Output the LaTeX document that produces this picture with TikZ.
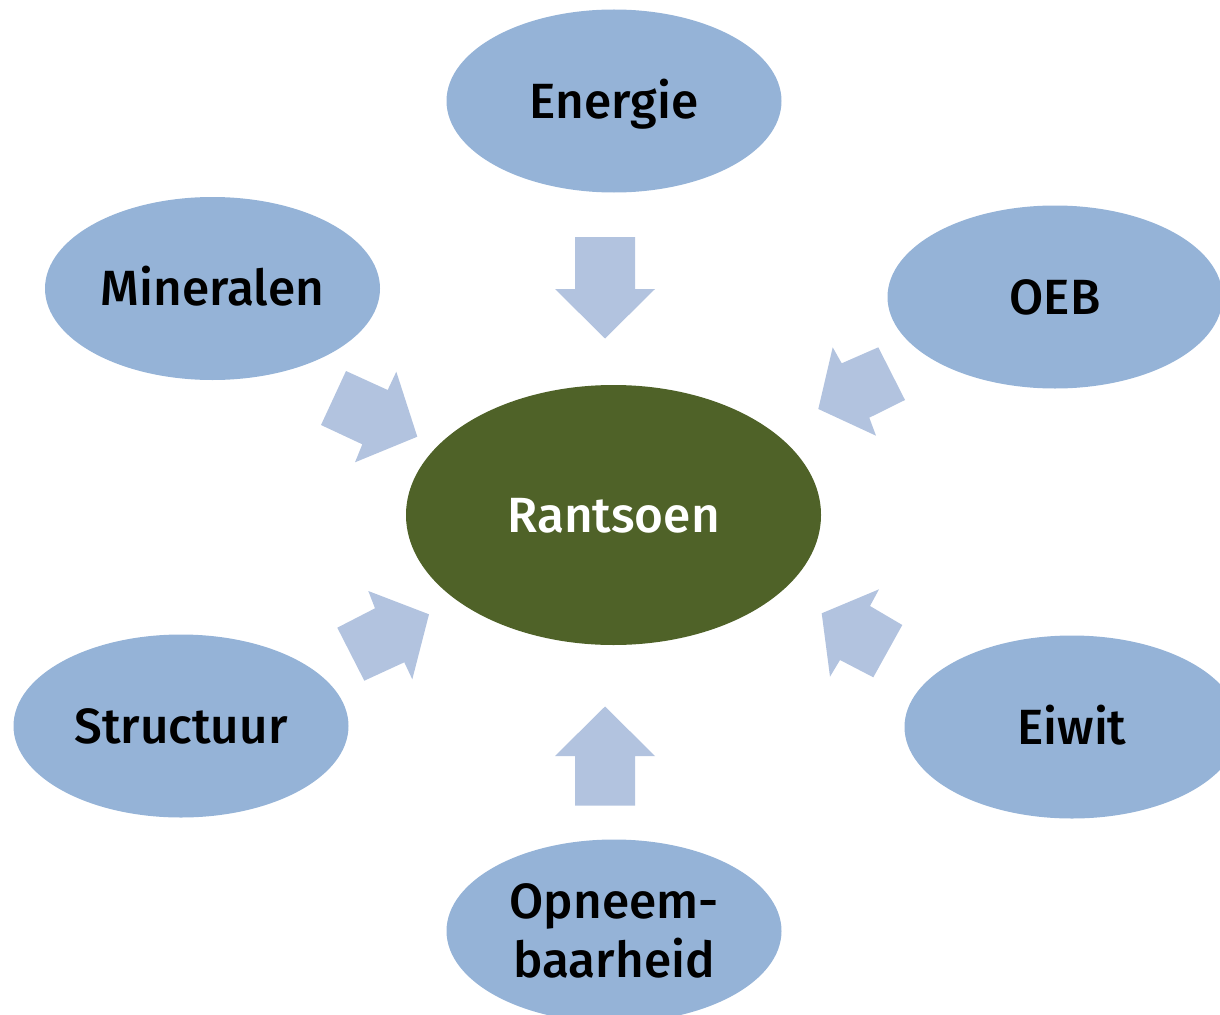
\documentclass[tikz,border=0pt]{standalone}
\usepackage{fontspec}
\setmainfont{Fira Sans Medium}
\usetikzlibrary{shapes.geometric}
\definecolor{bluefill}{HTML}{95B3D7}
\definecolor{arrowfill}{HTML}{B2C3DF}
\definecolor{greenfill}{HTML}{4F6228}
\begin{document}
\begin{tikzpicture}[x=1pt,y=-1pt,
  topicbase/.style={ellipse, fill=bluefill, minimum width=335pt, minimum height=183pt,
    inner sep=0pt, font=\fontsize{49.5}{59}\selectfont, text=black},
  topic/.style={topicbase, text height=34pt, text depth=0pt},
  centre/.style={ellipse, fill=greenfill, minimum width=415pt, minimum height=260pt,
    inner sep=0pt, font=\fontsize{49.5}{59}\selectfont, text=white,
    text height=34pt, text depth=0pt},
  blockarrow/.style={fill=arrowfill}]
\path[use as bounding box] (0,0) rectangle (1220,1014);
\clip (0,0) rectangle (1220,1014);

% centre
\node[centre] (rantsoen) at (613.5,515) {Rantsoen};

% surrounding topics
\node[topic] (energie)   at (614,101)    {Energie};
\node[topic] (mineralen) at (212.5,288.5) {Mineralen};
\node[topic] (oeb)       at (1055,297)   {OEB};
\node[topic] (structuur) at (181,726)    {Structuur};
\node[topic] (eiwit)     at (1072,727)   {Eiwit};
\node[topicbase, align=center] (opneem) at (614,931) {Opneem-\\baarheid};

% block arrows pointing to the centre
% from Energie (down)
\fill[blockarrow] (575,237) -- (635,237) -- (635,289) -- (655,289) -- (605,338.5)
  -- (555,289) -- (575,289) -- cycle;
% from Opneembaarheid (up)
\fill[blockarrow] (575,805.5) -- (635,805.5) -- (635,756) -- (655,756) -- (605,706.5)
  -- (555,756) -- (575,756) -- cycle;
% from Mineralen
\fill[blockarrow] (346,371) -- (387.7,390) -- (396.3,371.7) -- (417.3,436.7)
  -- (355,462.3) -- (362.3,444.3) -- (321,425) -- cycle;
% from OEB
\fill[blockarrow] (878.3,347.3) -- (841.7,363.3) -- (832.7,347.3) -- (818.3,409)
  -- (876,435.7) -- (869.3,417.7) -- (905,400) -- cycle;
% from Structuur
\fill[blockarrow] (337.3,627.7) -- (375,608.3) -- (368.3,591) -- (429,614.3)
  -- (412.3,679.3) -- (404.3,662.3) -- (364.3,680.7) -- cycle;
% from Eiwit
\fill[blockarrow] (902.3,625) -- (870,606) -- (879,589.3) -- (821.7,613.3)
  -- (830,676.7) -- (840,660) -- (873.3,677.3) -- cycle;
\end{tikzpicture}
\end{document}
